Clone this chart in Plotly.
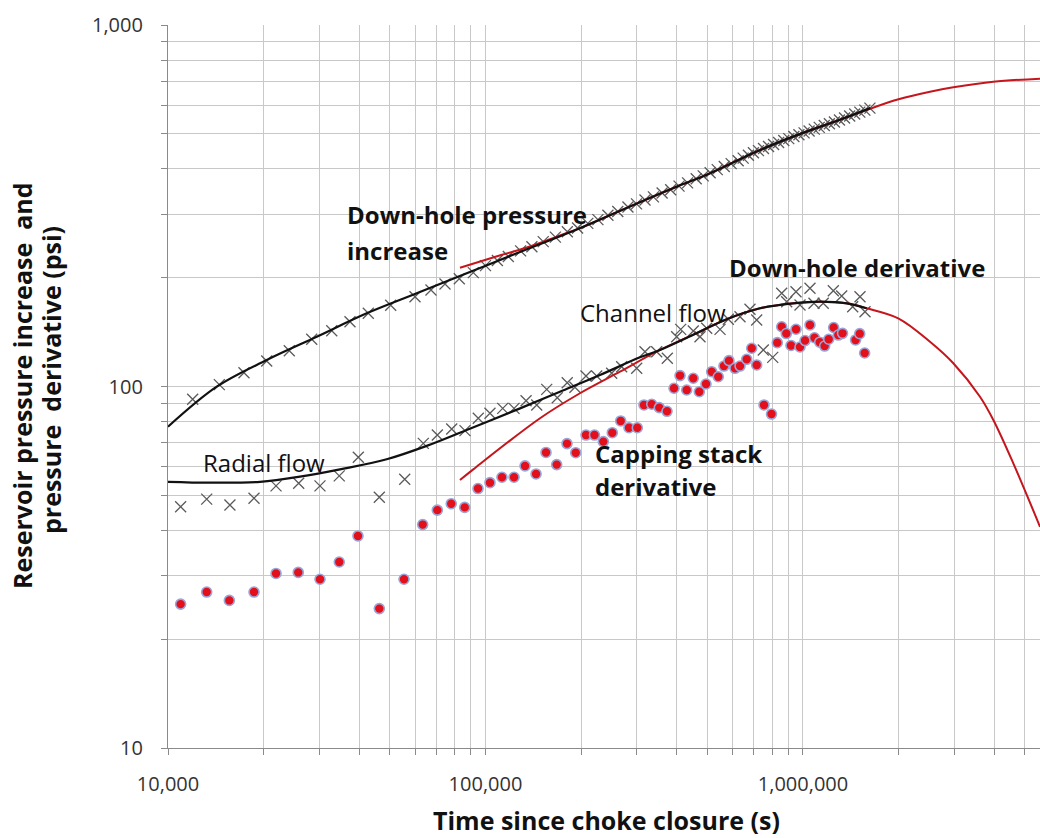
import plotly.graph_objects as go

# ---------------- data ----------------
# Down-hole pressure increase (measured, x markers)
p_time = [11960, 14510, 17350, 20460, 24100, 28360, 32790, 37430, 42740, 50280, 59980, 67340,
          74550, 82690, 91540, 100000, 109000, 118000, 129000, 140000, 152000, 166000, 181000,
          195000, 210000, 226000, 243000, 261000, 281000, 299000, 318000, 338000, 360000, 383000,
          407000, 433000, 461000, 485000, 510000, 537000, 565000, 594000, 625000, 648000, 673000,
          698000, 724000, 751000, 779000, 808000, 838000, 870000, 902000, 936000, 971000, 1008000,
          1045000, 1085000, 1125000, 1167000, 1211000, 1256000, 1303000, 1352000, 1403000,
          1455000, 1510000, 1566000, 1625000]
p_val = [92.2, 101.2, 109.2, 117.6, 125.6, 135.1, 142.7, 151.1, 159.4, 167.7, 177.2, 184.9,
         192.1, 198.7, 206.5, 216.0, 223.1, 229.0, 237.2, 243.5, 251.6, 259.0, 267.9,
         274.4, 282.6, 289.5, 297.8, 305.0, 313.8, 320.1, 327.9, 334.6, 343.0, 350.0,
         358.4, 365.9, 375.5, 382.5, 390.0, 398.0, 406.0, 413.5, 421.0, 428.2, 436.0,
         443.1, 449.2, 455.4, 461.0, 467.2, 473.1, 479.4, 485.0, 491.3, 497.2, 503.0,
         509.1, 515.2, 521.0, 527.3, 533.1, 539.2, 546.0, 553.1, 560.0,
         567.2, 574.1, 581.6, 589.0]

# Down-hole derivative (measured, x markers)
d_time = [10960, 13240, 15670, 18660, 21890, 25800, 30110, 34630, 39760, 46300, 55670, 63700,
          70520, 78270, 86180, 94910, 103300, 113300, 123000, 134200, 145000, 155900, 168300,
          180900, 191300, 207300, 224000, 249700, 268500, 299400, 318000, 346100, 373800,
          400100, 411900, 451300, 473800, 497400, 547900, 581800, 633400, 680900, 714800,
          749900, 802900, 856900, 888600, 950600, 978600, 1052000, 1083000, 1158000, 1246000,
          1324000, 1434000, 1512000, 1568000]
d_val = [46.5, 48.8, 47.0, 49.1, 53.1, 54.0, 53.1, 56.6, 63.7, 49.4, 55.4, 69.6,
         73.4, 76.3, 75.5, 81.7, 84.3, 87.0, 87.0, 91.3, 88.9, 98.2, 93.1,
         102.4, 99.5, 106.9, 106.9, 108.8, 113.4, 112.3, 124.8, 124.8, 119.7,
         137.3, 143.9, 142.4, 137.3, 144.9, 143.9, 153.5, 156.0, 163.5, 152.8,
         126.2, 120.4, 181.1, 171.6, 182.9, 168.0, 186.9, 169.9, 169.9, 184.1,
         178.0, 166.2, 177.2, 161.0]

# Capping stack derivative (red dots)
c_time = [10960, 13240, 15600, 18660, 21890, 25720, 30110, 34630, 39660, 46300, 55380, 63420,
          70520, 78000, 86000, 94710, 103300, 112700, 123000, 133200, 144300, 155100, 167600,
          180600, 192400, 207300, 220400, 235000, 250800, 266600, 283100, 300700, 315600,
          333900, 352700, 373000, 392400, 409900, 430300, 451300, 471400, 494900, 515800,
          540900, 563800, 584600, 610600, 633400, 664900, 689300, 714800, 753700, 795900,
          830000, 856900, 886000, 916700, 950600, 978600, 1015000, 1052000, 1087000, 1129000,
          1170000, 1205000, 1249000, 1292000, 1332000, 1464000, 1509000, 1564000]
c_val = [25.0, 27.0, 25.6, 27.0, 30.4, 30.6, 29.3, 32.7, 38.6, 24.3, 29.3, 41.5,
         45.5, 47.4, 46.3, 52.2, 54.2, 56.1, 56.1, 60.3, 57.3, 65.7, 60.8,
         69.5, 65.6, 73.4, 73.4, 70.4, 74.5, 80.3, 76.9, 76.9, 88.9,
         89.3, 87.4, 85.4, 98.9, 107.2, 97.8, 105.4, 96.7, 101.6, 109.9,
         106.4, 113.9, 117.9, 112.3, 113.9, 118.9, 127.6, 114.7, 88.9, 83.9,
         132.2, 146.3, 140.1, 129.9, 144.0, 128.6, 134.0, 148.0, 136.4, 132.6,
         129.4, 135.1, 145.6, 138.8, 140.3, 134.5, 140.0, 123.8]

# Model curves
bp_time = [10000, 14240, 20460, 29400, 42250, 60730, 87270, 125400, 200000, 300000, 400000,
           500000, 600000, 700000, 800000, 1000000, 1300000, 1630000]
bp_val = [77.4, 99.9, 118.4, 137.3, 159.4, 181.1, 205.7, 233.6, 275, 321, 357,
          386, 416, 443, 466, 503, 546, 589]

rp_time = [83100, 112000, 138000, 170000, 200000, 300000, 400000, 500000, 600000, 700000,
           800000, 1000000, 1300000, 1630000, 2000000, 2512000, 2975000, 3977000, 5580000]
rp_val = [213, 231, 244, 261, 275, 321, 357, 386, 416, 443,
          466, 503, 546, 587, 623, 654, 672.5, 697, 710.5]

bd_time = [10000, 13560, 19490, 26040, 34810, 48840, 65270, 87270, 128500, 171600, 229400,
           306600, 354400, 451300, 575200, 732000, 932300, 1131000, 1373000, 1587000]
bd_val = [54.5, 54.2, 54.5, 56.3, 59.0, 62.9, 68.5, 75.8, 87.0, 96.7, 107.6,
          120.4, 126.2, 139.1, 153.5, 164.6, 169.9, 171.6, 169.9, 164.6]

rd_time = [83100, 91500, 148500, 198400, 265200, 354400, 451300, 575200, 732000, 932300,
           1131000, 1373000, 1587000, 1995000, 2512000, 2975000, 3610000, 3977000, 4597000,
           5580000]
rd_val = [55.1, 59.0, 81.7, 95.8, 109.9, 126.2, 139.1, 153.5, 164.6, 169.9,
          171.6, 169.9, 164.6, 154.4, 133.0, 116.0, 93.7, 80.8, 61.3, 40.9]

x_tick_vals = [m * 10 ** e for e in (4, 5, 6) for m in range(1, 10)]
x_tick_text = ["10,000" if v == 10000 else "100,000" if v == 100000 else
               "1,000,000" if v == 1000000 else "" for v in x_tick_vals]
y_tick_vals = [m * 10 ** e for e in (1, 2) for m in range(1, 10)] + [1000]
y_tick_text = ["10" if v == 10 else "100" if v == 100 else "1,000" if v == 1000 else ""
               for v in y_tick_vals]

# ---------------- figure ----------------
FONT = "Open Sans, Liberation Sans, DejaVu Sans, sans-serif"
W, H = 1040, 838
L, R, T, B = 168, 0, 25, 90
PW, PH = W - L - R, H - T - B


def px(x):
    return (x - L) / PW


def py(y):
    return (H - B - y) / PH


fig = go.Figure()

x_marker = dict(symbol="x-thin", size=11, color="#5a5a5a",
                line=dict(width=1.3, color="#5a5a5a"))

fig.add_trace(go.Scatter(x=p_time, y=p_val, mode="markers", marker=x_marker,
                         name="Down-hole pressure"))
fig.add_trace(go.Scatter(x=d_time, y=d_val, mode="markers", marker=x_marker,
                         name="Down-hole derivative"))
fig.add_trace(go.Scatter(x=c_time, y=c_val, mode="markers",
                         marker=dict(symbol="circle", size=10, color="#e3101c",
                                     line=dict(width=1.6, color="#98a6d8")),
                         name="Capping stack derivative"))

fig.add_trace(go.Scatter(x=rp_time, y=rp_val, mode="lines", line_shape="spline",
                         line=dict(color="#c4161c", width=2), name="model p"))
fig.add_trace(go.Scatter(x=rd_time, y=rd_val, mode="lines", line_shape="spline",
                         line=dict(color="#c4161c", width=2), name="model d"))
fig.add_trace(go.Scatter(x=bp_time, y=bp_val, mode="lines", line_shape="spline",
                         line=dict(color="#111111", width=2.2), name="fit p"))
fig.add_trace(go.Scatter(x=bd_time, y=bd_val, mode="lines", line_shape="spline",
                         line=dict(color="#111111", width=2.2), name="fit d"))

grid = "#c8c8c8"
fig.update_xaxes(type="log", range=[4, 6.7465], tickvals=x_tick_vals, ticktext=x_tick_text,
                 showgrid=True, gridcolor=grid, gridwidth=1.2,
                 showline=True, linecolor="#8a8a8a", linewidth=1.2,
                 ticks="outside", ticklen=6, tickcolor="#8a8a8a", tickwidth=1,
                 ticklabelstandoff=12,
                 tickfont=dict(family=FONT, size=20, color="#333333"), zeroline=False)
fig.update_yaxes(type="log", range=[1, 3], tickvals=y_tick_vals, ticktext=y_tick_text,
                 showgrid=True, gridcolor=grid, gridwidth=1.2,
                 showline=True, linecolor="#8a8a8a", linewidth=1.2,
                 ticks="outside", ticklen=6, tickcolor="#8a8a8a", tickwidth=1,
                 ticklabelstandoff=14,
                 tickfont=dict(family=FONT, size=20, color="#333333"), zeroline=False)

ann = []


def label(text, x, y, bold=True, size=24, xanchor="left", angle=0):
    ann.append(dict(text=("<b>%s</b>" % text) if bold else text,
                    x=px(x), y=py(y), xref="paper", yref="paper",
                    xanchor=xanchor, yanchor="middle", showarrow=False, textangle=angle,
                    font=dict(family=FONT, size=size, color="#111111")))


label("Down-hole pressure", 345, 215)
label("increase", 345, 250)
label("Down-hole derivative", 727, 267)
label("Channel flow", 578, 312, bold=False)
label("Radial flow", 201, 462, bold=False)
label("Capping stack", 593, 453)
label("derivative", 593, 487)
label("Reservoir pressure increase&nbsp; and", 22, 386, size=25, xanchor="center", angle=-90)
label("pressure&nbsp; derivative (psi)", 51, 380, size=25, xanchor="center", angle=-90)
label("Time since choke closure (s)", 606, 820, size=25, xanchor="center")

fig.update_layout(width=W, height=H, margin=dict(l=L, r=R, t=T, b=B),
                  paper_bgcolor="white", plot_bgcolor="white", showlegend=False,
                  annotations=ann, font=dict(family=FONT))

fig.write_html("out.html")
